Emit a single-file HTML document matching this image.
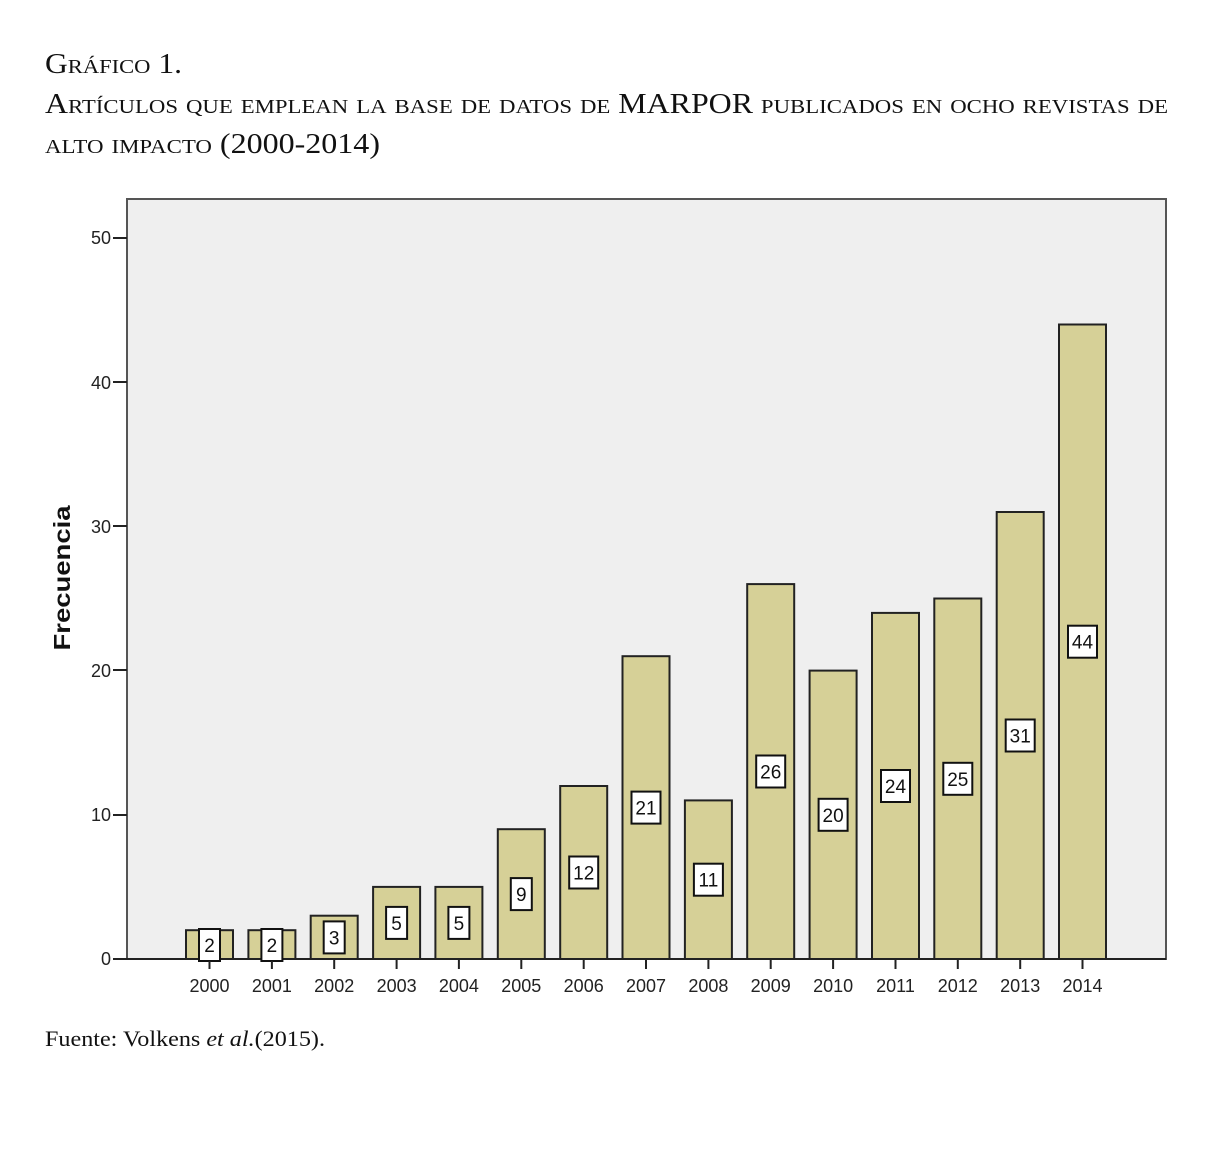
<!DOCTYPE html>
<html><head><meta charset="utf-8"><style>
html,body{margin:0;padding:0;background:#fff;}
svg{display:block;}
</style></head><body>
<svg width="1214" height="1167" viewBox="0 0 1214 1167" xmlns="http://www.w3.org/2000/svg">
<g font-family="Liberation Serif, serif" fill="#111" style="font-variant:small-caps">
<text x="45" y="73" font-size="28" textLength="137" lengthAdjust="spacingAndGlyphs">Gráfico 1.</text>
<text x="45" y="113" font-size="28" textLength="1123" lengthAdjust="spacingAndGlyphs">Artículos que emplean la base de datos de MARPOR publicados en ocho revistas de</text>
<text x="45" y="153" font-size="28" textLength="335" lengthAdjust="spacingAndGlyphs">alto impacto (2000-2014)</text>
</g>
<rect x="127" y="199" width="1039" height="760" fill="#efefef" stroke="#555" stroke-width="2"/>
<g font-family="Liberation Sans, sans-serif" font-size="18" fill="#222" text-anchor="end" stroke-width="2">
<text x="111" y="965">0</text><line x1="113" y1="959" x2="127" y2="959" stroke="#222"/>
<text x="111" y="821">10</text><line x1="113" y1="815" x2="127" y2="815" stroke="#222"/>
<text x="111" y="677">20</text><line x1="113" y1="670" x2="127" y2="670" stroke="#222"/>
<text x="111" y="533">30</text><line x1="113" y1="526" x2="127" y2="526" stroke="#222"/>
<text x="111" y="389">40</text><line x1="113" y1="382" x2="127" y2="382" stroke="#222"/>
<text x="111" y="244">50</text><line x1="113" y1="238" x2="127" y2="238" stroke="#222"/>
</g>
<text transform="translate(70,578) rotate(-90)" text-anchor="middle" font-family="Liberation Sans, sans-serif" font-weight="bold" font-size="23" fill="#111" textLength="145" lengthAdjust="spacingAndGlyphs">Frecuencia</text>

<g fill="#d6d097" stroke="#222" stroke-width="2">
<rect x="186" y="930.2" width="47" height="28.8"/>
<rect x="248.4" y="930.2" width="47" height="28.8"/>
<rect x="310.7" y="915.7" width="47" height="43.3"/>
<rect x="373.1" y="886.9" width="47" height="72.1"/>
<rect x="435.4" y="886.9" width="47" height="72.1"/>
<rect x="497.8" y="829.2" width="47" height="129.8"/>
<rect x="560.2" y="786" width="47" height="173"/>
<rect x="622.5" y="656.2" width="47" height="302.8"/>
<rect x="684.9" y="800.4" width="47" height="158.6"/>
<rect x="747.2" y="584.1" width="47" height="374.9"/>
<rect x="809.6" y="670.6" width="47" height="288.4"/>
<rect x="872" y="612.9" width="47" height="346.1"/>
<rect x="934.3" y="598.5" width="47" height="360.5"/>
<rect x="996.7" y="512" width="47" height="447"/>
<rect x="1059" y="324.5" width="47" height="634.5"/>
</g>
<line x1="127" y1="959" x2="1166" y2="959" stroke="#222" stroke-width="2"/>
<g fill="#fff" stroke="#111" stroke-width="2">
<rect x="199" y="929" width="21" height="32"/>
<rect x="261.4" y="929" width="21" height="32"/>
<rect x="323.7" y="921.4" width="21" height="32"/>
<rect x="386.1" y="906.9" width="21" height="32"/>
<rect x="448.4" y="906.9" width="21" height="32"/>
<rect x="510.8" y="878.1" width="21" height="32"/>
<rect x="569.2" y="856.5" width="29" height="32"/>
<rect x="631.5" y="791.6" width="29" height="32"/>
<rect x="693.9" y="863.7" width="29" height="32"/>
<rect x="756.2" y="755.5" width="29" height="32"/>
<rect x="818.6" y="798.8" width="29" height="32"/>
<rect x="881" y="770" width="29" height="32"/>
<rect x="943.3" y="762.8" width="29" height="32"/>
<rect x="1005.7" y="719.5" width="29" height="32"/>
<rect x="1068" y="625.7" width="29" height="32"/>
</g>
<g font-family="Liberation Sans, sans-serif" font-size="19" fill="#111" text-anchor="middle">
<text x="209.5" y="952">2</text>
<text x="271.9" y="952">2</text>
<text x="334.2" y="944.4">3</text>
<text x="396.6" y="929.9">5</text>
<text x="458.9" y="929.9">5</text>
<text x="521.3" y="901.1">9</text>
<text x="583.7" y="879.5">12</text>
<text x="646" y="814.6">21</text>
<text x="708.4" y="886.7">11</text>
<text x="770.7" y="778.5">26</text>
<text x="833.1" y="821.8">20</text>
<text x="895.5" y="793">24</text>
<text x="957.8" y="785.8">25</text>
<text x="1020.2" y="742.5">31</text>
<text x="1082.5" y="648.7">44</text>
</g>
<g stroke="#222" stroke-width="2">
<line x1="209.5" y1="961" x2="209.5" y2="969"/><line x1="271.9" y1="961" x2="271.9" y2="969"/>
<line x1="334.2" y1="959" x2="334.2" y2="969"/><line x1="396.6" y1="959" x2="396.6" y2="969"/>
<line x1="458.9" y1="959" x2="458.9" y2="969"/><line x1="521.3" y1="959" x2="521.3" y2="969"/>
<line x1="583.7" y1="959" x2="583.7" y2="969"/><line x1="646" y1="959" x2="646" y2="969"/>
<line x1="708.4" y1="959" x2="708.4" y2="969"/><line x1="770.7" y1="959" x2="770.7" y2="969"/>
<line x1="833.1" y1="959" x2="833.1" y2="969"/><line x1="895.5" y1="959" x2="895.5" y2="969"/>
<line x1="957.8" y1="959" x2="957.8" y2="969"/><line x1="1020.2" y1="959" x2="1020.2" y2="969"/>
<line x1="1082.5" y1="959" x2="1082.5" y2="969"/>
</g>
<g font-family="Liberation Sans, sans-serif" font-size="18" fill="#222" text-anchor="middle">
<text x="209.5" y="992">2000</text><text x="271.9" y="992">2001</text><text x="334.2" y="992">2002</text>
<text x="396.6" y="992">2003</text><text x="458.9" y="992">2004</text><text x="521.3" y="992">2005</text>
<text x="583.7" y="992">2006</text><text x="646" y="992">2007</text><text x="708.4" y="992">2008</text>
<text x="770.7" y="992">2009</text><text x="833.1" y="992">2010</text><text x="895.5" y="992">2011</text>
<text x="957.8" y="992">2012</text><text x="1020.2" y="992">2013</text><text x="1082.5" y="992">2014</text>
</g>
<text x="45" y="1046" font-family="Liberation Serif, serif" font-size="22" fill="#111" textLength="280" lengthAdjust="spacingAndGlyphs">Fuente: Volkens <tspan font-style="italic">et al.</tspan>(2015).</text>
</svg>
</body></html>
